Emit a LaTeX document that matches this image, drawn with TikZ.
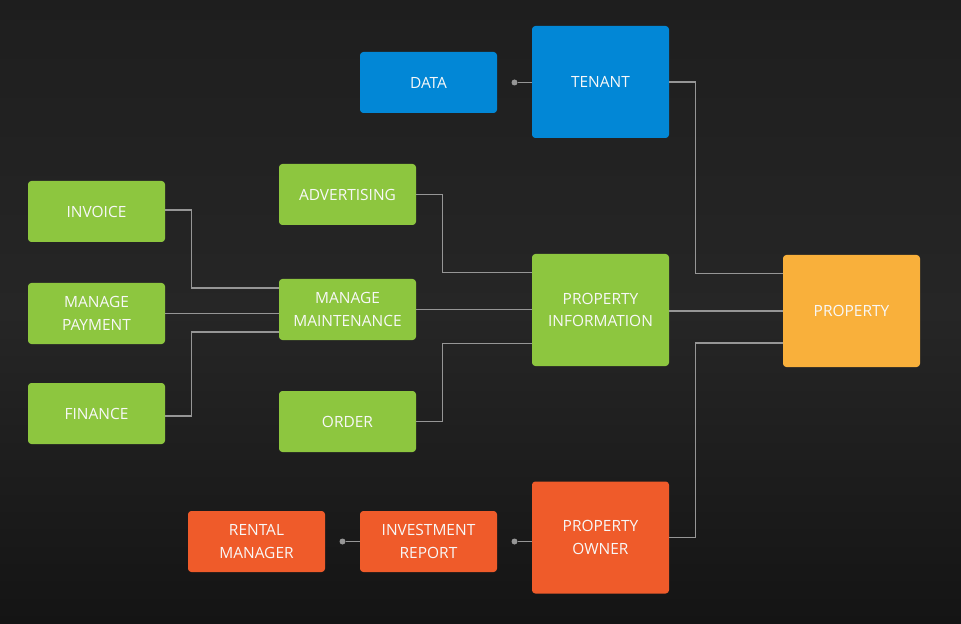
\documentclass[tikz,border=0pt]{standalone}
\usepackage{fontspec}
\setmainfont{Open Sans}
\usepackage{tikz}
\usetikzlibrary{
  calc
}
\definecolor{bgtop}{RGB}{30,30,30}
\definecolor{bgmid}{RGB}{38,38,38}
\definecolor{bgbot}{RGB}{20,20,20}
\definecolor{tenantblue}{RGB}{2,135,214}
\definecolor{infogreen}{RGB}{141,198,63}
\definecolor{propyellow}{RGB}{249,176,59}
\definecolor{ownerred}{RGB}{239,91,42}
\definecolor{wire}{RGB}{150,150,150}
\definecolor{boxtext}{RGB}{248,248,248}

\begin{document}
\begin{tikzpicture}[x=0.75pt, y=-0.75pt,
  box/.style={rectangle, rounded corners=2.5pt, minimum width=102.75pt, minimum height=45.75pt,
    text=boxtext, align=center, font=\fontsize{11.6}{17}\selectfont, inner sep=2pt},
  bigbox/.style={box, minimum height=84pt},
  link/.style={draw=wire, line width=1.1pt},
  dot/.style={circle, fill=wire, inner sep=0pt, minimum size=4.5pt}]
  % background
  \shade[top color=bgtop, bottom color=bgbot, middle color=bgmid] (0,0) rectangle (961,624);
  \useasboundingbox (0,0) rectangle (961,624);

  % boxes
  \node[bigbox, fill=tenantblue] (tenant) at (600.5,82) {TENANT};
  \node[box, fill=tenantblue] (data) at (428.5,82.5) {DATA};
  \node[bigbox, fill=propyellow] (property) at (851.5,311) {PROPERTY};
  \node[bigbox, fill=infogreen] (info) at (600.5,310) {PROPERTY\\INFORMATION};
  \node[box, fill=infogreen] (advert) at (347.5,194.5) {ADVERTISING};
  \node[box, fill=infogreen] (maint) at (347.5,309.5) {MANAGE\\MAINTENANCE};
  \node[box, fill=infogreen] (order) at (347.5,421.5) {ORDER};
  \node[box, fill=infogreen] (invoice) at (96.5,211.5) {INVOICE};
  \node[box, fill=infogreen] (payment) at (96.5,313.5) {MANAGE\\PAYMENT};
  \node[box, fill=infogreen] (finance) at (96.5,413.5) {FINANCE};
  \node[bigbox, fill=ownerred] (owner) at (600.5,537.5) {PROPERTY\\OWNER};
  \node[box, fill=ownerred] (report) at (428.5,541.5) {INVESTMENT\\REPORT};
  \node[box, fill=ownerred] (rental) at (256.5,541.5) {RENTAL\\MANAGER};

  % dots between the boxes
  \node[dot] (dtenant) at ($(data.east)!0.5!(tenant.west |- data.east)$) {};
  \node[dot] (dreport) at ($(rental.east)!0.5!(report.west)$) {};
  \node[dot] (downer) at ($(report.east)!0.5!(owner.west |- report.east)$) {};

  % connectors
  \draw[link] (dtenant) -- (tenant.west |- dtenant);
  \draw[link] (dreport) -- (report.west);
  \draw[link] (downer) -- (owner.west |- downer);
  \draw[link] (tenant.east) -- ++(26,0) |- ([yshift=28pt]property.west);
  \draw[link] (info.east |- property.west) -- (property.west);
  \draw[link] (owner.east) -- ++(26,0) |- ([yshift=-24pt]property.west);
  \draw[link] (advert.east) -- ++(26,0) |- ([yshift=28pt]info.west);
  \draw[link] (maint.east) -- (maint.east -| info.west);
  \draw[link] (order.east) -- ++(26,0) |- ([yshift=-25pt]info.west);
  \draw[link] ([yshift=1pt]invoice.east) -- ++(26,0) |- ([yshift=16pt]maint.west);
  \draw[link] (payment.east) -- (payment.east -| maint.west);
  \draw[link] ([yshift=-2pt]finance.east) -- ++(26,0) |- ([yshift=-17pt]maint.west);
\end{tikzpicture}
\end{document}
